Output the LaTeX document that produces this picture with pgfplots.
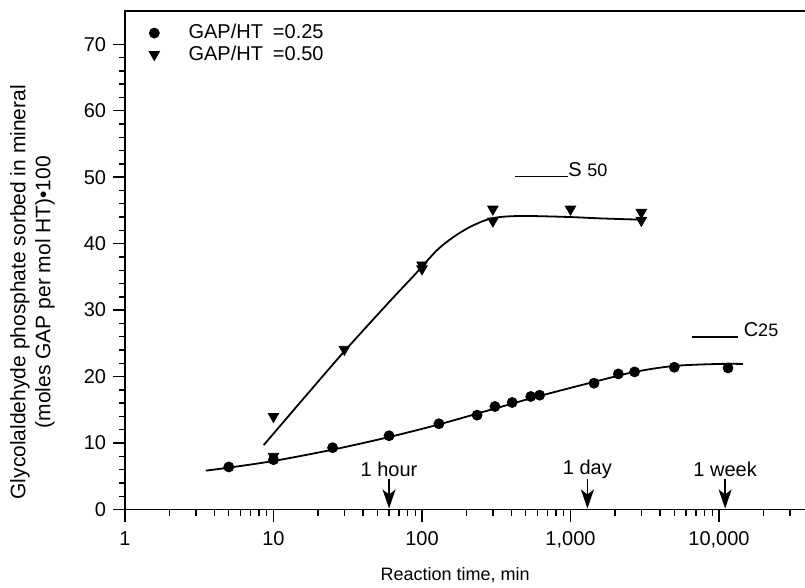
\documentclass[border=0pt]{standalone}
\usepackage{fontspec}
\setmainfont{Liberation Sans}
\usepackage{pgfplots}
\pgfplotsset{compat=1.18}
\usetikzlibrary{arrows.meta}

% Sorption kinetics of glycolaldehyde phosphate (GAP) on hydrotalcite (HT)
\pgfplotstableread{
t      y
5      6.4
10     7.5
25     9.3
60     11.1
130    12.9
235    14.2
310    15.5
405    16.1
540    17.0
620    17.2
1440   19.0
2100   20.4
2700   20.7
5000   21.4
11500  21.3
}\gapquarter

\pgfplotstableread{
t      y
10     14.0
10     8.0
30     24.1
100    36.8
100    36.2
300    45.2
300    43.4
1000   45.2
3000   44.7
3000   43.5
}\gaphalf

% hand-drawn trend curves
\pgfplotstableread{
t      y
3.5    5.85
5      6.3
10     7.3
25     9.0
60     10.9
130    12.8
300    15.1
600    17.0
1440   19.2
2700   20.7
5000   21.6
10000  21.9
14500  21.9
}\fitquarter

\pgfplotstableread{
t      y
8.6    9.7
15.8   16.6
30     23.8
60     31.2
90     35.4
126    39.0
163    41.0
210    42.5
273    43.6
335    44.0
434    44.15
562    44.15
1000   44.0
1580   43.8
3015   43.6
}\fithalf

\begin{document}
\begin{tikzpicture}
\path[use as bounding box, clip] (-62.5bp,-39.25bp) rectangle (340bp,254.75bp);
\begin{axis}[
  at={(0,0)}, anchor=south west,
  scale only axis,
  width=341.7bp, height=249.25bp,
  xmode=log, xmin=1, xmax=40000,
  ymin=0, ymax=75,
  axis line style={line width=0.8bp},
  xtick={1,10,100,1000,10000},
  xticklabels={1,10,100,{1,000},{10,000}},
  minor xtick={2,3,...,9,20,30,...,90,200,300,...,900,2000,3000,...,9000,20000,30000,40000},
  ytick={0,10,...,70},
  minor y tick num=4,
  tick align=outside,
  xtick pos=bottom, ytick pos=left,
  major tick length=6bp, minor tick length=3bp,
  every tick/.style={black, line width=0.7bp},
  font=\fontsize{10bp}{12bp}\selectfont,
  xticklabel style={yshift=-1.5bp},
  /pgf/number format/assume math mode=true,
  xlabel={Reaction time, min},
  xlabel style={at={(axis description cs:0.483,0)}, anchor=center, yshift=-32.75bp,
    font=\fontsize{9bp}{11bp}\selectfont},
  ylabel={Glycolaldehyde phosphate sorbed in mineral\\(moles GAP per mol HT)\textbullet 100},
  ylabel style={align=center, at={(axis description cs:0,0.436)}, anchor=center,
    yshift=46.25bp, font=\fontsize{10.5bp}{12.5bp}\selectfont},
  legend style={at={(axis description cs:0.026,0.99)}, anchor=north west,
    draw=none, fill=none, column sep=12.5bp, row sep=-2bp,
    font=\fontsize{10bp}{12bp}\selectfont},
  legend cell align=left,
]
\addplot[only marks, mark=*, mark size=2.5bp, black] table[x=t,y=y] {\gapquarter};
\addlegendentry{GAP/HT\hspace{5bp}=0.25}
\addplot[only marks, mark=triangle*, mark size=3bp, mark options={rotate=180}, black]
  table[x=t,y=y] {\gaphalf};
\addlegendentry{GAP/HT\hspace{5bp}=0.50}

\addplot[forget plot, black, line width=0.9bp, smooth] table[x=t,y=y] {\fitquarter};
\addplot[forget plot, black, line width=0.9bp, smooth] table[x=t,y=y] {\fithalf};

% curve tags
\draw[line width=0.9bp] (axis cs:423,50.1) -- (axis cs:962,50.1);
\node[anchor=base west, inner sep=0pt] at (axis cs:962,50.1) {S {\fontsize{9bp}{10bp}\selectfont 50}};
\draw[line width=0.9bp] (axis cs:6550,26.0) -- (axis cs:13430,26.0);
\node[anchor=base west, inner sep=0pt] at (axis cs:14600,26.0) {C{\fontsize{9bp}{10bp}\selectfont 25}};

% time markers
\foreach \t/\lab in {60/1 hour, 1300/1 day, 11000/1 week}{
  \edef\tmp{\noexpand\draw[line width=0.8bp, -{Stealth[length=9.5bp,width=6.5bp,inset=2.5bp]}]
    (axis cs:\t,4.6) -- (axis cs:\t,0.15);
    \noexpand\node[anchor=center] at (axis cs:\t,6.0) {\lab};}
  \tmp
}
\end{axis}
\end{tikzpicture}
\end{document}
